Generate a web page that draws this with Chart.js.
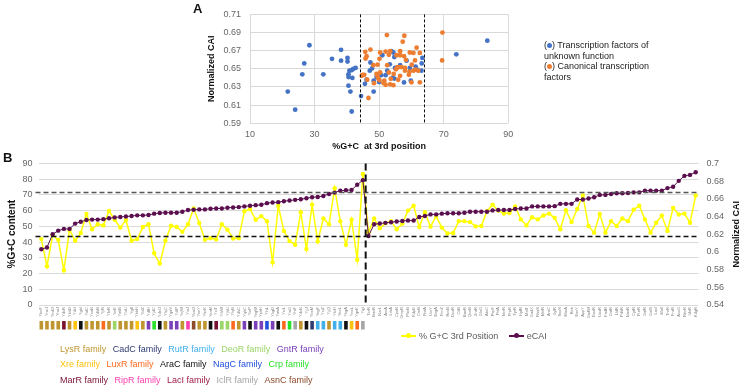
<!DOCTYPE html>
<html>
<head>
<meta charset="utf-8">
<script src="https://cdn.jsdelivr.net/npm/chart.js@4.4.1/dist/chart.umd.min.js"></script>
<style>
body { margin: 0; background: #fff; font-family: "Liberation Sans", Arial, sans-serif; }
#wrap { position: relative; width: 745px; height: 386px; overflow: hidden; }
canvas { position: absolute; left: 0; }
.lbl { position: absolute; font-weight: bold; font-size: 13px; color: #111; }
.txt { position: absolute; font-size: 9px; color: #333; white-space: nowrap; }
.fam span { margin-right: 6.5px; }
.dot { display: inline-block; width: 5px; height: 5px; border-radius: 50%; vertical-align: 0px; }
.leg { display: inline-block; position: relative; width: 15px; height: 8px; vertical-align: -1px; margin-right: 3px; }
.leg i { position: absolute; left: 0; right: 0; top: 3px; height: 1.5px; }
.leg b { position: absolute; left: 5px; top: 1px; width: 5px; height: 5px; border-radius: 50%; }
</style>
</head>
<body>
<div id="wrap">
  <canvas id="graphA" width="745" height="152" style="top:0"></canvas>
  <canvas id="graphB" width="745" height="236" style="top:150px"></canvas>
  <div class="lbl" style="left:193px;top:1px">A</div>
  <div class="lbl" style="left:3px;top:150px">B</div>
  <div class="txt" style="left:544px;top:40px;line-height:10.5px;color:#222">
    (<span class="dot" style="background:#4472C4"></span>) Transcription factors of<br>unknown function<br>
    (<span class="dot" style="background:#ED7D31"></span>) Canonical transcription<br>factors
  </div>
  <div class="txt" style="left:401px;top:331px;color:#595959">
    <span class="leg"><i style="background:#FFFF00"></i><b style="background:#FFFF00"></b></span>% G+C 3rd Position
    <span class="leg" style="margin-left:8px"><i style="background:#5B0F4E"></i><b style="background:#5B0F4E"></b></span>eCAI
  </div>
  <div id="famLegend" class="txt fam" style="left:60px;top:342px;line-height:15.3px"></div>
</div>
<script>
// panel A : %GC3 vs normalized CAI
var unknownGC = [21.7,24.0,26.2,26.8,28.4,32.7,35.4,38.2,38.2,40.2,40.2,40.5,40.5,40.5,41.1,41.5,40.8,41.5,42.0,42.7,41.7,44.4,45.6,46.1,47.1,47.3,47.8,48.3,48.3,49.2,50.0,50.6,51.0,52.0,52.5,53.3,53.8,54.4,54.7,54.9,54.1,54.7,56.5,57.7,58.5,59.5,59.8,61.3,61.8,63.2,63.4,63.1,73.9,83.5];
var unknownCAI = [0.625,0.605,0.644,0.656,0.676,0.644,0.661,0.671,0.659,0.662,0.658,0.644,0.641,0.6315,0.625,0.603,0.648,0.6485,0.650,0.651,0.640,0.620,0.6335,0.638,0.648,0.657,0.6505,0.637,0.625,0.641,0.6355,0.643,0.665,0.643,0.648,0.655,0.6695,0.668,0.663,0.651,0.640,0.6393,0.654,0.635,0.659,0.651,0.637,0.6525,0.649,0.656,0.662,0.648,0.666,0.681];
var canonicalGC = [52.4,57.8,57.3,69.6,69.5,45.7,47.3,46.1,45.8,50.3,50.1,52.0,53.0,53.4,55.4,56.5,56.5,57.7,59.5,60.6,61.6,62.6,61.1,58.3,48.2,45.4,44.9,46.3,49.2,49.5,49.8,50.3,50.1,51.6,51.3,52.0,52.5,53.0,53.4,54.4,54.5,55.2,55.6,56.1,56.5,56.9,58.0,58.0,59.2,59.4,60.1,60.6,61.3,62.1,62.6,60.0,46.7,44.6,48.4,49.5,53.6,55.9];
var canonicalCAI = [0.6872,0.6865,0.680,0.690,0.6593,0.6688,0.6712,0.664,0.6614,0.668,0.661,0.669,0.6655,0.6695,0.665,0.6695,0.665,0.664,0.668,0.6675,0.6733,0.6675,0.6593,0.660,0.654,0.6434,0.6434,0.638,0.6444,0.6417,0.639,0.646,0.6376,0.637,0.6343,0.6325,0.654,0.646,0.633,0.632,0.6444,0.6495,0.652,0.652,0.6423,0.652,0.651,0.648,0.6434,0.6468,0.6546,0.648,0.649,0.648,0.6352,0.6352,0.6179,0.6423,0.6342,0.6546,0.639,0.638];
var gcCutoffsA = [44, 64];

// panel B : per gene
var genes = ["YbeF","YneJ","YbdO","YhaJ","YdcR","YbhD","YdcI","YgbI","YafC","YcaN","YdhB","YjiR","YfeR","YeiE","YahB","YiaU","YgfI","YbbH","YidZ","YdfH","YjdC","YdeO","YhjC","YgaV","YdiP","YcjW","YiaJ","YbaO","YeeY","YhcK","YeaM","YciT","YihW","YjhU","YhjB","YdhC","YqhC","YieP","YegW","YphH","YihL","YkgD","YahA","YeiL","YiaG","YhiF","YdcN","YjjJ","YbcM","YegF","YcjZ","YjjQ","YbiH","YbeL","YkgA","YneL","YgeK","YqjI",
  "TorR","BasR","NarL","ArcA","LrhA","CpxR","OmpR","PhoB","KdpE","CreB","RstA","UvrY","EvgA","FimZ","RcsB","DcuR","CitB","BaeR","QseB","ZraR","GlnG","AtoC","PspF","FhlA","NorR","PrpR","TyrR","HyfR","MalT","GadX","RhaS","MelR","AraC","XylR","SoxS","MarA","Rob","EnvY","AppY","GadW","ExuR","UxuR","FadR","GntR","LldR","PdhR","NanR","CytR","PurR","GalR","GalS","LacI","MalI","TreR","FruR","AscG","RbsR","IdnR","KdgR"];
var gcThird = [41.9,24.6,44.4,41.3,22.1,47.7,40.8,45.8,57.9,48.1,51.3,50.6,59.8,54.2,49.2,54.0,40.8,41.9,49.6,51.3,32.9,26.3,40.8,50.4,49.6,46.5,51.3,61.3,52.1,41.4,
  42.5,41.7,51.3,47.9,42.3,42.5,59.6,61.0,54.2,56.5,53.3,27.1,63.1,47.1,40.6,38.3,59.0,35.6,63.8,40.4,55.0,51.3,74.2,53.3,38.3,54.2,28.8,83.3,
  46.0,55.0,48.8,51.9,53.3,48.1,51.7,60.0,63.1,49.6,59.0,49.8,56.5,49.2,45.4,45.8,53.3,53.3,52.7,50.0,50.2,59.6,63.8,60.0,58.1,58.5,62.7,54.4,50.6,55.8,
  54.4,56.9,58.1,55.4,48.1,60.2,52.7,61.0,69.6,50.2,46.0,57.9,46.0,53.3,50.2,55.0,53.3,60.6,63.1,54.4,46.0,52.3,56.9,47.1,61.7,57.5,58.1,52.3,69.6];
var eCAI = [0.603,0.605,0.620,0.624,0.626,0.626,0.632,0.634,0.636,0.6365,0.6365,0.637,0.638,0.639,0.6395,0.640,0.6405,0.6413,0.6413,0.6417,0.6432,0.644,0.6443,0.6443,0.6443,0.6454,0.6473,0.6476,0.648,0.648,
  0.6488,0.6491,0.6491,0.6499,0.6502,0.6506,0.6514,0.6521,0.6528,0.6532,0.6551,0.6558,0.6562,0.6573,0.658,0.6588,0.6595,0.6606,0.6618,0.6621,0.6632,0.6655,0.667,0.6692,0.6696,0.670,0.6759,0.6811,
  0.618,0.6313,0.6321,0.6328,0.6335,0.6343,0.635,0.6354,0.6354,0.6395,0.6406,0.6424,0.6424,0.6432,0.6436,0.6436,0.6436,0.6443,0.6454,0.6454,0.6454,0.6454,0.6469,0.6473,0.6473,0.6473,0.6484,0.6491,0.6491,0.6514,
  0.6514,0.6514,0.6514,0.6517,0.6543,0.6543,0.6543,0.6592,0.6592,0.6603,0.6618,0.6644,0.6644,0.6655,0.6662,0.6662,0.6666,0.6673,0.6673,0.6692,0.6692,0.6692,0.6692,0.6721,0.6736,0.6803,0.6859,0.687,0.690];
var gcCutoffsB = [43.8, 71.7];
var splitAfter = 57; // last gene of the "unknown function" group

// family of each unknown-function gene (colour boxes)
var geneFamily = ["LysR","LysR","LysR","LysR","MarR","LysR","Xre","AraC","LysR","LysR","LysR","LuxR","LysR","DeoR","LysR","LysR","LysR","Xre","LysR","GntR","Crp","AraC","LysR","GntR","GntR","LysR","RipR","AsnC","LysR","LysR",
  "AraC","MarR","DeoR","DeoR","LuxR","LysR","GntR","AraC","GntR","GntR","NagC","GntR","AraC","LuxR","Crp","IclR","LysR","AraC","CadC","RutR","RutR","LysR","RutR","RutR","AraC","Xre","LuxR","IclR"];
var families = [["LysR","CadC","RutR","DeoR","GntR"],["Xre","LuxR","AraC","NagC","Crp"],["MarR","RipR","LacI","IclR","AsnC"]];
var familyColors = {LysR:"#BF9530", CadC:"#2F3C70", RutR:"#41B0EA", DeoR:"#9CD568", GntR:"#7A40B8", Xre:"#FFC20E", LuxR:"#FF6A1F", AraC:"#111111",
  NagC:"#2150DD", Crp:"#2AE02A", MarR:"#7A1232", RipR:"#FF40B2", LacI:"#9E1D45", IclR:"#A6A6A6", AsnC:"#8C4B2C"};

var famHtml = "";
families.forEach(function (row) {
    row.forEach(function (f) {
        famHtml += '<span style="color:' + familyColors[f] + '">' + f + ' family</span>';
    });
    famHtml += "<br>";
});
document.getElementById('famLegend').innerHTML = famHtml;

var tickGray = '#666';

function toPoints(xs, ys) {
    return xs.map(function (x, i) { return {x: x, y: ys[i]}; });
}

var cutLinesA = {
    id: 'cutLinesA',
    afterDatasetsDraw: function (chart) {
        var c = chart.ctx, a = chart.chartArea, sx = chart.scales.x;
        c.save();
        c.strokeStyle = '#111';
        c.lineWidth = 1;
        c.setLineDash([3, 2]);
        gcCutoffsA.forEach(function (v) {
            var px = Math.round(sx.getPixelForValue(v)) + 0.5;
            c.beginPath(); c.moveTo(px, a.top); c.lineTo(px, a.bottom); c.stroke();
        });
        c.restore();
    }
};

new Chart(document.getElementById('graphA').getContext('2d'), {
    type: 'scatter',
    data: {
        datasets: [{
            label: 'Canonical transcription factors',
            data: toPoints(canonicalGC, canonicalCAI),
            backgroundColor: '#ED7D31', borderColor: '#ED7D31',
            pointRadius: 2.4, borderWidth: 0, order: 1
        }, {
            label: 'Transcription factors of unknown function',
            data: toPoints(unknownGC, unknownCAI),
            backgroundColor: '#4472C4', borderColor: '#4472C4',
            pointRadius: 2.4, borderWidth: 0, order: 2
        }]
    },
    options: {
        responsive: false,
        animation: false,
        layout: {padding: {left: 202, right: 236.7, top: 5.7, bottom: 0}},
        plugins: {legend: {display: false}, tooltip: {enabled: false}},
        scales: {
            x: {
                min: 10, max: 90,
                ticks: {stepSize: 20, color: tickGray, font: {size: 9}, padding: 6},
                grid: {color: '#D9D9D9', drawTicks: false},
                border: {display: false},
                title: {display: true, text: '%G+C  at 3rd position', color: '#111', font: {size: 9, weight: 'bold'}, padding: {top: 0, bottom: 0}},
                afterFit: function (s) { s.height = 28.7; }
            },
            y: {
                min: 0.59, max: 0.71,
                ticks: {stepSize: 0.02, color: tickGray, font: {size: 9}, padding: 9,
                    callback: function (v) { return v.toFixed(2); }},
                grid: {color: '#D9D9D9', drawTicks: false},
                border: {display: false},
                title: {display: true, text: 'Normalized CAI', color: '#111', font: {size: 9, weight: 'bold'}, padding: {top: 4, bottom: 0}},
                afterFit: function (s) { s.width = 48; }
            }
        }
    },
    plugins: [cutLinesA]
});

var cutLinesB = {
    id: 'cutLinesB',
    afterDatasetsDraw: function (chart) {
        var c = chart.ctx, a = chart.chartArea, sx = chart.scales.x, sy = chart.scales.y;
        c.save();
        c.lineWidth = 1.5;
        c.setLineDash([5, 3]);
        gcCutoffsB.forEach(function (v, i) {
            var py = Math.round(sy.getPixelForValue(v)) + 0.5;
            c.strokeStyle = i == 0 ? '#111' : '#555';
            c.beginPath(); c.moveTo(a.left - 3, py); c.lineTo(a.right, py); c.stroke();
        });
        // group separator
        var px = (sx.getPixelForValue(splitAfter) + sx.getPixelForValue(splitAfter + 1)) / 2;
        c.strokeStyle = '#111';
        c.lineWidth = 2;
        c.setLineDash([7, 4]);
        c.beginPath(); c.moveTo(px, a.top); c.lineTo(px, a.bottom); c.stroke();
        c.restore();
    },
    afterDraw: function (chart) {
        var c = chart.ctx, a = chart.chartArea, sx = chart.scales.x;
        c.save();
        // family boxes under the gene names
        geneFamily.forEach(function (f, i) {
            var px = sx.getPixelForValue(i);
            c.fillStyle = familyColors[f];
            c.fillRect(px - 1.8, sx.bottom - 10, 3.6, 8.5);
        });
        // right axis title, reads upwards
        c.translate(chart.width - 8, (a.top + a.bottom) / 2);
        c.rotate(-Math.PI / 2);
        c.fillStyle = '#111';
        c.font = 'bold 9px "Liberation Sans", Arial, sans-serif';
        c.textAlign = 'center';
        c.textBaseline = 'middle';
        c.fillText('Normalized CAI', 0, 0);
        c.restore();
    }
};

new Chart(document.getElementById('graphB').getContext('2d'), {
    type: 'line',
    data: {
        labels: genes,
        datasets: [{
            label: '% G+C 3rd Position',
            data: gcThird,
            yAxisID: 'y',
            borderColor: '#FFFF00', backgroundColor: '#FFFF00',
            borderWidth: 1.5, pointRadius: 2.2, pointBorderWidth: 0,
            order: 2
        }, {
            label: 'eCAI',
            data: eCAI,
            yAxisID: 'y1',
            borderColor: '#5B0F4E', backgroundColor: '#5B0F4E',
            borderWidth: 1, pointRadius: 2.2, pointBorderWidth: 0,
            order: 1
        }]
    },
    options: {
        responsive: false,
        animation: false,
        layout: {padding: {left: 0, right: 0, top: 12, bottom: 55}},
        plugins: {legend: {display: false}, tooltip: {enabled: false}},
        scales: {
            x: {
                offset: true,
                grid: {display: false, drawTicks: false},
                border: {display: false},
                ticks: {autoSkip: false, maxRotation: 90, minRotation: 90, color: '#808080', font: {size: 4}, padding: 2},
                afterFit: function (s) { s.height = 26; }
            },
            y: {
                position: 'left',
                min: 0, max: 90,
                ticks: {stepSize: 10, color: tickGray, font: {size: 9}, padding: 6},
                grid: {color: '#D9D9D9', drawTicks: false},
                border: {display: false},
                title: {display: true, text: '%G+C content', color: '#111', font: {size: 10, weight: 'bold'}, padding: {top: 6, bottom: 0}},
                afterFit: function (s) { s.width = 38.5; }
            },
            y1: {
                position: 'right',
                min: 0.54, max: 0.70,
                ticks: {stepSize: 0.02, color: tickGray, font: {size: 9}, padding: 8,
                    callback: function (v) { return String(+v.toFixed(2)); }},
                grid: {display: false, drawTicks: false},
                border: {display: false},
                afterFit: function (s) { s.width = 46.5; }
            }
        }
    },
    plugins: [cutLinesB]
});
</script>
</body>
</html>
